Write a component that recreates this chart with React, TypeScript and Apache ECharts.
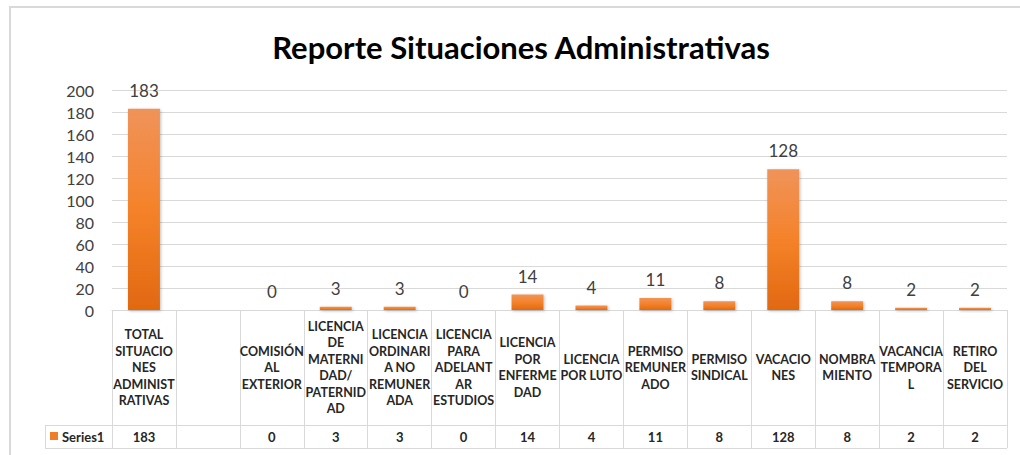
import React, { useEffect, useRef } from "react";
import * as echarts from "echarts";

const TITLE = "Reporte Situaciones Administrativas";
const SERIES_NAME = "Series1";
const categories = [
  "TOTAL\nSITUACIO\nNES\nADMINIST\nRATIVAS",
  "",
  "COMISIÓN\nAL\nEXTERIOR",
  "LICENCIA\nDE\nMATERNI\nDAD/\nPATERNID\nAD",
  "LICENCIA\nORDINARI\nA NO\nREMUNER\nADA",
  "LICENCIA\nPARA\nADELANT\nAR\nESTUDIOS",
  "LICENCIA\nPOR\nENFERME\nDAD",
  "LICENCIA\nPOR LUTO",
  "PERMISO\nREMUNER\nADO",
  "PERMISO\nSINDICAL",
  "VACACIO\nNES",
  "NOMBRA\nMIENTO",
  "VACANCIA\nTEMPORA\nL",
  "RETIRO\nDEL\nSERVICIO",
];
const values: (number | null)[] = [183, null, 0, 3, 3, 0, 14, 4, 11, 8, 128, 8, 2, 2];
const Y_MIN = 0;
const Y_MAX = 200;
const Y_STEP = 20;

const FONT = 'Lato, "Open Sans", sans-serif';
const GRID_LEFT = 112;
const GRID_RIGHT_X = 1007;
const GRID_TOP = 90;
const AXIS_Y = 310;
const ROW1_BOTTOM = 425;
const ROW2_BOTTOM = 448;
const LEGEND_LEFT = 45;
const W = 1020;
const H = 455;

export default function App() {
  const ref = useRef<HTMLDivElement>(null);
  useEffect(() => {
    if (!ref.current) return;
    const chart = echarts.init(ref.current, null, { renderer: "svg" });
    const lineColor = "#d9d9d9";
    const option: any = {
      animation: false,
      backgroundColor: "#ffffff",
      grid: {
        left: GRID_LEFT,
        right: W - GRID_RIGHT_X,
        top: GRID_TOP,
        bottom: H - AXIS_Y,
        containLabel: false,
      },
      xAxis: [
        {
          type: "category",
          data: categories,
          position: "bottom",
          boundaryGap: true,
          axisLine: { show: true, lineStyle: { color: lineColor, width: 1 } },
          axisTick: {
            show: true,
            length: ROW2_BOTTOM - AXIS_Y,
            lineStyle: { color: lineColor, width: 1 },
          },
          axisLabel: {
            interval: 0,
            hideOverlap: false,
            margin: (ROW1_BOTTOM - AXIS_Y) / 2,
            verticalAlign: "middle",
            align: "center",
            fontFamily: FONT,
            fontWeight: "bold",
            fontSize: 12.5,
            lineHeight: 16.5,
            color: "#262626",
          },
        },
        {
          type: "category",
          data: values.map((v) => (v == null ? "" : String(v))),
          position: "bottom",
          offset: 0,
          axisLine: { show: false },
          axisTick: { show: false },
          axisLabel: {
            interval: 0,
            hideOverlap: false,
            margin: (ROW1_BOTTOM + ROW2_BOTTOM) / 2 - AXIS_Y,
            verticalAlign: "middle",
            align: "center",
            fontFamily: FONT,
            fontWeight: "bold",
            fontSize: 13,
            color: "#262626",
          },
        },
      ],
      yAxis: {
        type: "value",
        min: Y_MIN,
        max: Y_MAX,
        interval: Y_STEP,
        axisLine: { show: false },
        axisTick: { show: false },
        splitLine: { show: true, lineStyle: { color: lineColor, width: 1 } },
        axisLabel: {
          margin: 18,
          fontFamily: FONT,
          fontSize: 16,
          color: "#404040",
        },
      },
      series: [
        {
          name: SERIES_NAME,
          type: "bar",
          xAxisIndex: 0,
          data: values,
          barWidth: "50%",
          itemStyle: {
            color: new echarts.graphic.LinearGradient(0, 0, 0, 1, [
              { offset: 0, color: "#f0935a" },
              { offset: 0.5, color: "#f5822a" },
              { offset: 1, color: "#e26810" },
            ]),
            shadowColor: "rgba(0,0,0,0.25)",
            shadowBlur: 3,
            shadowOffsetX: 1,
            shadowOffsetY: 1,
          },
          label: {
            show: true,
            position: "top",
            distance: 10,
            fontFamily: FONT,
            fontSize: 17,
            color: "#404040",
          },
        },
      ],
      graphic: [
        {
          type: "rect",
          z: -10,
          shape: { x: 10, y: 7, width: 1200, height: 600 },
          style: { fill: "none", stroke: lineColor, lineWidth: 2 },
          silent: true,
        },
        {
          type: "text",
          x: 521,
          y: 47,
          style: {
            text: TITLE,
            font: `bold 31px ${FONT}`,
            fill: "#000000",
            textAlign: "center",
            textVerticalAlign: "middle",
          },
        },
        {
          type: "line",
          shape: { x1: LEGEND_LEFT, y1: ROW1_BOTTOM + 0.5, x2: GRID_RIGHT_X, y2: ROW1_BOTTOM + 0.5 },
          style: { stroke: lineColor, lineWidth: 1 },
        },
        {
          type: "line",
          shape: { x1: LEGEND_LEFT, y1: ROW2_BOTTOM + 0.5, x2: GRID_RIGHT_X, y2: ROW2_BOTTOM + 0.5 },
          style: { stroke: lineColor, lineWidth: 1 },
        },
        {
          type: "line",
          shape: { x1: LEGEND_LEFT + 0.5, y1: ROW1_BOTTOM, x2: LEGEND_LEFT + 0.5, y2: ROW2_BOTTOM },
          style: { stroke: lineColor, lineWidth: 1 },
        },
        {
          type: "rect",
          shape: { x: 50, y: 432, width: 8, height: 8 },
          style: { fill: "#f07e26" },
        },
        {
          type: "text",
          x: 62,
          y: (ROW1_BOTTOM + ROW2_BOTTOM) / 2 + 0.5,
          style: {
            text: SERIES_NAME,
            font: `bold 13px ${FONT}`,
            fill: "#262626",
            textAlign: "left",
            textVerticalAlign: "middle",
          },
        },
      ],
    };
    chart.setOption(option);
    return () => chart.dispose();
  }, []);
  return (
    <div
      ref={ref}
      style={{ position: "absolute", left: 0, top: 0, width: W, height: H, background: "#fff" }}
    />
  );
}
